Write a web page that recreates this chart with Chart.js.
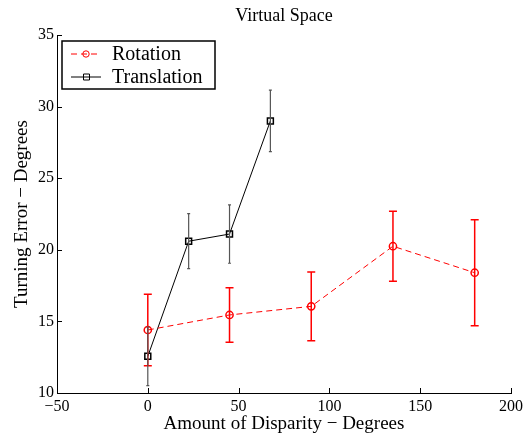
<!DOCTYPE html>
<html>
<head>
<meta charset="utf-8">
<script src="https://cdn.jsdelivr.net/npm/chart.js@4/dist/chart.umd.min.js"></script>
<style>
  html, body { margin: 0; padding: 0; background: #fff; }
  #wrap { width: 532px; height: 438px; }
</style>
</head>
<body>
<div id="wrap"><canvas id="chart" width="532" height="438"></canvas></div>
<script>
// values
const rotX = [0, 45, 90, 135, 180];
const rotY = [14.4, 15.45, 16.05, 20.25, 18.4];
const rotErr = [2.5, 1.9, 2.4, 2.45, 3.7];

const transX = [0, 22.5, 45, 67.5];
const transY = [12.56, 20.6, 21.1, 29.0];
const transErr = [2.05, 1.92, 2.04, 2.15];

const xTicks = [-50, 0, 50, 100, 150, 200];
const yTicks = [10, 15, 20, 25, 30, 35];

const serif = '"Liberation Serif", "DejaVu Serif", serif';

function pts(xs, ys) {
    return xs.map((x, i) => ({ x: x, y: ys[i] }));
}

// error bars drawn through the chart's own scales
const errorBars = {
    id: 'errorBars',
    afterDatasetsDraw(chart) {
        const ctx = chart.ctx;
        const xs = chart.scales.x, ys = chart.scales.y;
        chart.data.datasets.forEach(ds => {
            ctx.save();
            ctx.strokeStyle = ds.errColor;
            ctx.lineWidth = ds.errWidth;
            ds.data.forEach((p, i) => {
                const px = xs.getPixelForValue(p.x);
                const top = ys.getPixelForValue(p.y + ds.err[i]);
                const bot = ys.getPixelForValue(p.y - ds.err[i]);
                ctx.beginPath();
                ctx.moveTo(px, top); ctx.lineTo(px, bot);
                ctx.moveTo(px - ds.cap, top); ctx.lineTo(px + ds.cap, top);
                ctx.moveTo(px - ds.cap, bot); ctx.lineTo(px + ds.cap, bot);
                ctx.stroke();
            });
            ctx.restore();
        });
    }
};

// inward ticks, title and boxed legend, MATLAB style
const decor = {
    id: 'decor',
    afterDraw(chart) {
        const ctx = chart.ctx;
        const a = chart.chartArea;
        const xs = chart.scales.x, ys = chart.scales.y;
        ctx.save();
        ctx.strokeStyle = '#000';
        ctx.lineWidth = 1;
        ctx.beginPath();
        xTicks.forEach(v => {
            const px = Math.round(xs.getPixelForValue(v)) + 0.5;
            ctx.moveTo(px, a.bottom); ctx.lineTo(px, a.bottom - 5);
        });
        yTicks.forEach(v => {
            const py = Math.round(ys.getPixelForValue(v)) + 0.5;
            ctx.moveTo(a.left, py); ctx.lineTo(a.left + 5, py);
        });
        ctx.stroke();

        ctx.fillStyle = '#000';
        ctx.font = '18px ' + serif;
        ctx.textAlign = 'center';
        ctx.textBaseline = 'alphabetic';
        ctx.fillText('Virtual Space', (a.left + a.right) / 2, 21);

        // legend
        const lx = 62, ly = 41, lw = 153, lh = 48;
        ctx.fillStyle = '#fff';
        ctx.fillRect(lx, ly, lw, lh);
        ctx.lineWidth = 1.5;
        ctx.strokeRect(lx, ly, lw, lh);
        const rows = [
            { ds: chart.data.datasets[0], y: ly + 13 },
            { ds: chart.data.datasets[1], y: ly + 36 }
        ];
        rows.forEach(r => {
            ctx.strokeStyle = r.ds.borderColor;
            ctx.lineWidth = 1;
            ctx.setLineDash(r.ds.borderDash || []);
            ctx.beginPath();
            ctx.moveTo(lx + 9, r.y); ctx.lineTo(lx + 39, r.y);
            ctx.stroke();
            ctx.setLineDash([]);
            ctx.beginPath();
            if (r.ds.pointStyle === 'rect') {
                ctx.rect(lx + 21.5, r.y - 3, 6, 6);
            } else {
                ctx.arc(lx + 24, r.y, 3.2, 0, Math.PI * 2);
            }
            ctx.stroke();
            ctx.fillStyle = '#000';
            ctx.font = '20px ' + serif;
            ctx.textAlign = 'left';
            ctx.textBaseline = 'middle';
            ctx.fillText(r.ds.label, lx + 50, r.y + 1);
        });
        ctx.restore();
    }
};

new Chart(document.getElementById('chart'), {
    type: 'line',
    data: {
        datasets: [
            {
                label: 'Rotation',
                data: pts(rotX, rotY),
                err: rotErr,
                errColor: '#ff0000',
                errWidth: 1.5,
                cap: 4,
                borderColor: '#ff0000',
                borderWidth: 1,
                borderDash: [6, 4],
                pointStyle: 'circle',
                pointRadius: 3.6,
                pointBorderWidth: 1.5,
                pointBackgroundColor: 'rgba(0,0,0,0)',
                pointBorderColor: '#ff0000',
                tension: 0
            },
            {
                label: 'Translation',
                data: pts(transX, transY),
                err: transErr,
                errColor: '#555',
                errWidth: 1.2,
                cap: 1.5,
                borderColor: '#000',
                borderWidth: 1,
                pointStyle: 'rect',
                pointRadius: 4.2,
                pointBorderWidth: 1.5,
                pointBackgroundColor: 'rgba(0,0,0,0)',
                pointBorderColor: '#000',
                tension: 0
            }
        ]
    },
    options: {
        responsive: false,
        animation: false,
        layout: { padding: { top: 35, right: 21, left: 0, bottom: 0 } },
        plugins: {
            legend: { display: false },
            title: { display: false },
            tooltip: { enabled: false }
        },
        scales: {
            x: {
                type: 'linear',
                min: -50,
                max: 200,
                afterBuildTicks: s => { s.ticks = xTicks.map(v => ({ value: v })); },
                afterFit: s => { s.height = 45; },
                grid: { display: false, drawTicks: false },
                border: { display: true, color: '#000', width: 1 },
                ticks: {
                    color: '#000',
                    font: { family: serif, size: 16 },
                    padding: 4,
                    callback: v => (v < 0 ? '\u2212' + Math.abs(v) : String(v))
                },
                title: {
                    display: true,
                    text: 'Amount of Disparity \u2212 Degrees',
                    color: '#000',
                    font: { family: serif, size: 19 },
                    padding: { top: 0, bottom: 3 }
                }
            },
            y: {
                type: 'linear',
                min: 10,
                max: 35,
                afterBuildTicks: s => { s.ticks = yTicks.map(v => ({ value: v })); },
                afterFit: s => { s.width = 57; },
                grid: { display: false, drawTicks: false },
                border: { display: true, color: '#000', width: 1 },
                ticks: {
                    color: '#000',
                    font: { family: serif, size: 16 },
                    padding: 3
                },
                title: {
                    display: true,
                    text: 'Turning Error \u2212 Degrees',
                    color: '#000',
                    font: { family: serif, size: 19 },
                    padding: { top: 11, bottom: 0 }
                }
            }
        }
    },
    plugins: [errorBars, decor]
});
</script>
</body>
</html>
